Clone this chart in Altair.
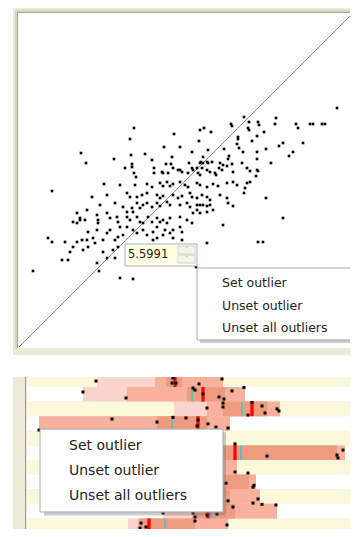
import altair as alt
import pandas as pd

# ---------------- top panel: scatter ----------------
top_points = [
    (318,239),(225,230),(257,229),(239,225),(240,222),(230,225),(229,219),(230,217),(212,223),(213,221),
    (256,223),(277,223),(279,219),(291,223),(294,223),(303,223),(306,223),(115,219),(181,217),(185,219),
    (192,215),(155,213),(245,215),(238,211),(219,210),(219,208),(111,208),(180,206),(233,206),(284,204),
    (260,201),(264,204),(218,203),(145,200),(161,200),(220,199),(205,198),(247,198),(189,197),(173,195),
    (62,194),(112,192),(126,193),(224,195),(238,195),(274,195),(270,191),(210,191),(209,188),(153,190),
    (184,190),(67,184),(95,188),(133,187),(238,188),(252,184),(113,183),(113,180),(106,179),(147,183),
    (152,183),(170,184),(181,184),(184,184),(188,185),(189,184),(201,184),(204,182),(208,181),(213,183),
    (193,185),(223,184),(228,179),(135,179),(154,179),(159,177),(161,177),(163,175),(173,179),(174,177),
    (178,179),(183,179),(188,177),(191,175),(203,177),(214,175),(238,177),(115,174),(135,174),(143,175),
    (144,174),(149,174),(169,174),(179,174),(181,172),(197,172),(237,171),(117,170),(182,185),(231,176),
    (239,176),(196,174),(200,179),
    (33,156),(85,163),(101,162),(116,162),(128,163),(133,160),(141,164),(144,161),(148,165),(151,161),
    (154,163),(161,165),(166,162),(169,160),(178,164),(181,162),(188,160),(194,163),(199,161),(208,164),
    (214,165),(218,162),(226,159),(228,164),(231,165),(225,154),(247,149),(264,129),(239,105),(244,105),
    (73,150),(88,152),(108,154),(111,150),(118,150),(123,152),(128,154),(138,152),(141,149),(144,151),
    (154,152),(159,149),(163,151),(171,154),(173,150),(178,149),(183,152),(188,150),(191,147),(201,152),
    (208,149),(209,144),(214,141),(178,142),(181,142),(184,142),(188,141),(191,142),(168,144),(171,140),
    (161,142),(148,145),(151,142),(138,144),(141,141),(128,144),(133,140),(118,144),(121,139),(124,142),
    (113,139),(114,135),(104,140),(108,135),(96,144),(81,142),(68,137),(58,134),(61,129),(54,125),
    (58,124),(61,127),(66,127),(78,132),(79,127),(79,124),(88,134),(91,129),(98,130),(99,125),
    (101,120),(108,130),(111,127),(118,130),(121,125),(124,124),(129,130),(133,125),(138,129),(141,125),
    (144,127),(148,124),(151,129),(161,130),(168,127),(173,124),(174,134),(178,137),(181,134),(188,135),
    (194,137),(204,122),(161,120),(163,115),(154,117),(151,114),(146,117),(144,112),(138,120),(134,115),
    (124,117),(128,112),(114,117),(118,114),(108,120),(104,112),(99,110),(96,107),(91,117),(88,114),
    (84,107),(78,117),(74,109),(76,104),(69,115),(68,107),(69,100),(63,107),(64,97),(58,105),
    (54,100),(51,95),(49,87),(43,87),(29,109),(33,105),(46,105),(84,95),(88,89),(78,84),
    (94,97),(96,89),(99,100),(134,107),(138,109),(154,109),(163,107),(188,104),(14,76),(80,76),
    (101,69),(114,68),(177,80),
]
diag_values = [0, 334]
tip_value = "5.5991"
menu_items = ["Set outlier", "Unset outlier", "Unset all outliers"]

# ---------------- bottom panel: per-row distribution summaries ----------------
rows = list(range(12))
range_lo = [70, 56, 147, 12, 73, 123, 93, 113, 103, 136, 101, 101]
range_hi = [196, 218, 253, 203, 188, 318, 210, 229, 233, 250, 201, 216]
p10 = [128, 100, 180, 12, 103, 153, 123, 143, 133, 165, 111, 123]
p90 = [196, 218, 253, 203, 188, 318, 210, 229, 233, 250, 201, 216]
q1 = [139, 160, 196, 130, 133, 178, 143, 173, 163, 168, 113, 138]
q3 = [155, 198, 240, 180, 173, 310, 188, 222, 203, 208, 168, 173]
median = [148, 176, 225, 171, 153, 208, 168, 185, 178, 181, 122, 153]
mean = [145, 165, 215, 145, 148, 214, 163, 190, 173, 184, 138, 159]
bottom_points = [
    (69,0.59),(146,0.38),(145,0.73),(149,0.73),(172,0.79),(195,0.45),(56,1.34),(99,1.75),(166,1.07),
    (168,1.21),(176,1.48),(192,1.68),(197,1.82),(205,1.27),(217,1.03),(180,2.44),(196,2.1),(196,2.37),
    (225,2.06),(235,2.3),(238,2.78),(250,2.5),(252,2.64),(221,2.92),(85,3.19),(130,3.4),(146,3.08),
    (159,3.12),(171,3.26),(170,3.67),(181,3.53),(189,3.74),(201,3.81),(12,3.95),(208,4.9),(240,5.73),
    (310,5.66),(311,5.86),(316,5.32),(208,6.82),(221,6.89),(199,7.59),(227,7.73),(226,7.86),(231,8.67),
    (201,8.8),(226,8.95),(235,9.04),(249,9.08),(206,9.22),(136,9.63),(166,9.63),(180,9.77),(190,9.7),
    (168,9.9),(168,10.18),(114,10.32),(119,10.59),(113,10.66),(120,10.93),(102,11.0),(188,10.93),
    (200,10.45),(134,11.12),(156,11.14),(153,11.0),
]

# ---------------- UI pieces (in each panel's data units) ----------------
BEIGE = "#ece9d8"
top_frame = pd.DataFrame({
    "x": [-4, -4, -2, -2, -1], "x2": [-2, 337, -1, 336, 336],
    "y": [-2, 335, -1, 334, -1], "y2": [337, 337, 335, 335, 334],
    "fill": ["#d9d5c5", "#d9d5c5", "#a5a296", "#a5a296", "#ffffff"],
})
tip_box = pd.DataFrame({"x": [106], "x2": [178], "y": [81], "y2": [103]})
spin_box = pd.DataFrame({"x": [159, 159], "x2": [176, 176], "y": [93, 84], "y2": [101, 92]})
spin_arrow = pd.DataFrame({"x": [167.5, 167.5], "y": [97, 88], "t": ["˄", "˅"]})
tip_text = pd.DataFrame({"x": [109], "y": [92], "t": [tip_value]})
top_menu = pd.DataFrame({"x": [178], "x2": [345], "y": [7], "y2": [79]})
top_shadow = pd.DataFrame({"x": [181], "x2": [345], "y": [4], "y2": [76]})
top_menu_text = pd.DataFrame({"x": [203] * 3, "y": [64, 41, 19], "t": menu_items})

bot_frame = pd.DataFrame({"x": [-2], "x2": [-1], "y": [0], "y2": [13], "fill": ["#9d9a8e"]})
bot_menu = pd.DataFrame({"x": [13], "x2": [196], "y": [3.88], "y2": [9.56]})
bot_shadow = pd.DataFrame({"x": [17], "x2": [199], "y": [4.1], "y2": [9.8]})
bot_menu_text = pd.DataFrame({"x": [42] * 3, "y": [5.04, 6.75, 8.47], "t": menu_items})

FONT = "DejaVu Sans"

# ---------------- top panel ----------------
XS = alt.Scale(domain=[-6, 331], nice=False, zero=False)
YS = alt.Scale(domain=[-8, 339], nice=False, zero=False)


def rect_enc(X, Y):
    return dict(x=alt.X("x:Q", scale=X, axis=None), x2="x2:Q",
                y=alt.Y("y:Q", scale=Y, axis=None), y2="y2:Q")


def pt_enc(X, Y):
    return dict(x=alt.X("x:Q", scale=X, axis=None), y=alt.Y("y:Q", scale=Y, axis=None))


pts_df = pd.DataFrame(top_points, columns=["x", "y"])
diag_df = pd.DataFrame({"x": diag_values, "y": diag_values})

top = alt.layer(
    alt.Chart(top_frame).mark_rect(clip=True).encode(**rect_enc(XS, YS), color=alt.Color("fill:N", scale=None)),
    alt.Chart(diag_df).mark_line(color="#858585", strokeWidth=1, clip=True).encode(**pt_enc(XS, YS)),
    alt.Chart(pts_df).mark_square(size=7, color="#000000", opacity=1, clip=True).encode(**pt_enc(XS, YS)),
    alt.Chart(tip_box).mark_rect(fill="#ffffe1", stroke="#a2afc8", strokeWidth=1).encode(**rect_enc(XS, YS)),
    alt.Chart(spin_box).mark_rect(fill="#f4f4ee", stroke="#d4d4ca", strokeWidth=1).encode(**rect_enc(XS, YS)),
    alt.Chart(spin_arrow).mark_text(fontSize=7, color="#a8a8a8", font=FONT).encode(**pt_enc(XS, YS), text="t:N"),
    alt.Chart(tip_text).mark_text(align="left", baseline="middle", font=FONT, fontSize=11.5,
                                  color="#1c1c1c").encode(**pt_enc(XS, YS), text="t:N"),
    alt.Chart(top_shadow).mark_rect(fill="#6e6e6e", opacity=0.35, clip=True).encode(**rect_enc(XS, YS)),
    alt.Chart(top_menu).mark_rect(fill="#ffffff", stroke="#a8a8a8", strokeWidth=1, clip=True).encode(**rect_enc(XS, YS)),
    alt.Chart(top_menu_text).mark_text(align="left", baseline="middle", font=FONT, fontSize=12.5,
                                       color="#222222").encode(**pt_enc(XS, YS), text="t:N"),
).properties(width=337, height=347)

# ---------------- bottom panel ----------------
XB = alt.Scale(domain=[-14, 323], nice=False, zero=False)
YB = alt.Scale(domain=[0.315, 10.726], nice=False, zero=False, reverse=True)

box_df = pd.DataFrame({"row": rows, "row2": [r + 1 for r in rows],
                       "lo": range_lo, "hi": range_hi, "p10": p10, "p90": p90,
                       "q1": q1, "q3": q3, "med": median, "mean": mean,
                       "stripe": ["#fbf9dc" if r % 2 == 0 else "#ffffff" for r in rows],
                       "s0": [0] * len(rows), "s1": [324] * len(rows)})
bp_df = pd.DataFrame(bottom_points, columns=["x", "y"])


def band(lo, hi, color):
    return alt.Chart(box_df).mark_rect(clip=True, color=color).encode(
        x=alt.X(f"{lo}:Q", scale=XB, axis=None), x2=f"{hi}:Q",
        y=alt.Y("row:Q", scale=YB, axis=None), y2="row2:Q")


stripes = alt.Chart(box_df).mark_rect(clip=True).encode(
    x=alt.X("s0:Q", scale=XB, axis=None), x2="s1:Q",
    y=alt.Y("row:Q", scale=YB, axis=None), y2="row2:Q",
    color=alt.Color("stripe:N", scale=None))


def tick(field, color, w):
    return alt.Chart(box_df).mark_rule(clip=True, color=color, strokeWidth=w).encode(
        x=alt.X(f"{field}:Q", scale=XB, axis=None),
        y=alt.Y("row:Q", scale=YB, axis=None), y2="row2:Q")


bottom = alt.layer(
    alt.Chart(bot_frame).mark_rect(clip=True).encode(**rect_enc(XB, YB), color=alt.Color("fill:N", scale=None)),
    stripes,
    band("lo", "hi", "#fad5cb"),
    band("p10", "p90", "#f8b19c"),
    band("q1", "q3", "#ef9b7f"),
    tick("med", "#ff0000", 3.2),
    tick("mean", "#2ccfd2", 1.5),
    alt.Chart(bp_df).mark_square(size=9, color="#000000", opacity=1, clip=True).encode(**pt_enc(XB, YB)),
    alt.Chart(bot_shadow).mark_rect(fill="#6e6e6e", opacity=0.35, clip=True).encode(**rect_enc(XB, YB)),
    alt.Chart(bot_menu).mark_rect(fill="#ffffff", stroke="#a8a8a8", strokeWidth=1, clip=True).encode(**rect_enc(XB, YB)),
    alt.Chart(bot_menu_text).mark_text(align="left", baseline="middle", font=FONT, fontSize=14,
                                       color="#222222").encode(**pt_enc(XB, YB), text="t:N"),
).properties(width=337, height=152)

chart = alt.vconcat(top, bottom, spacing=22).properties(
    padding={"left": 5, "top": 0, "right": 0, "bottom": 0}
).configure_view(strokeWidth=0, fill=BEIGE)

chart.save("out.html", embed_options={"renderer": "svg", "actions": False})
